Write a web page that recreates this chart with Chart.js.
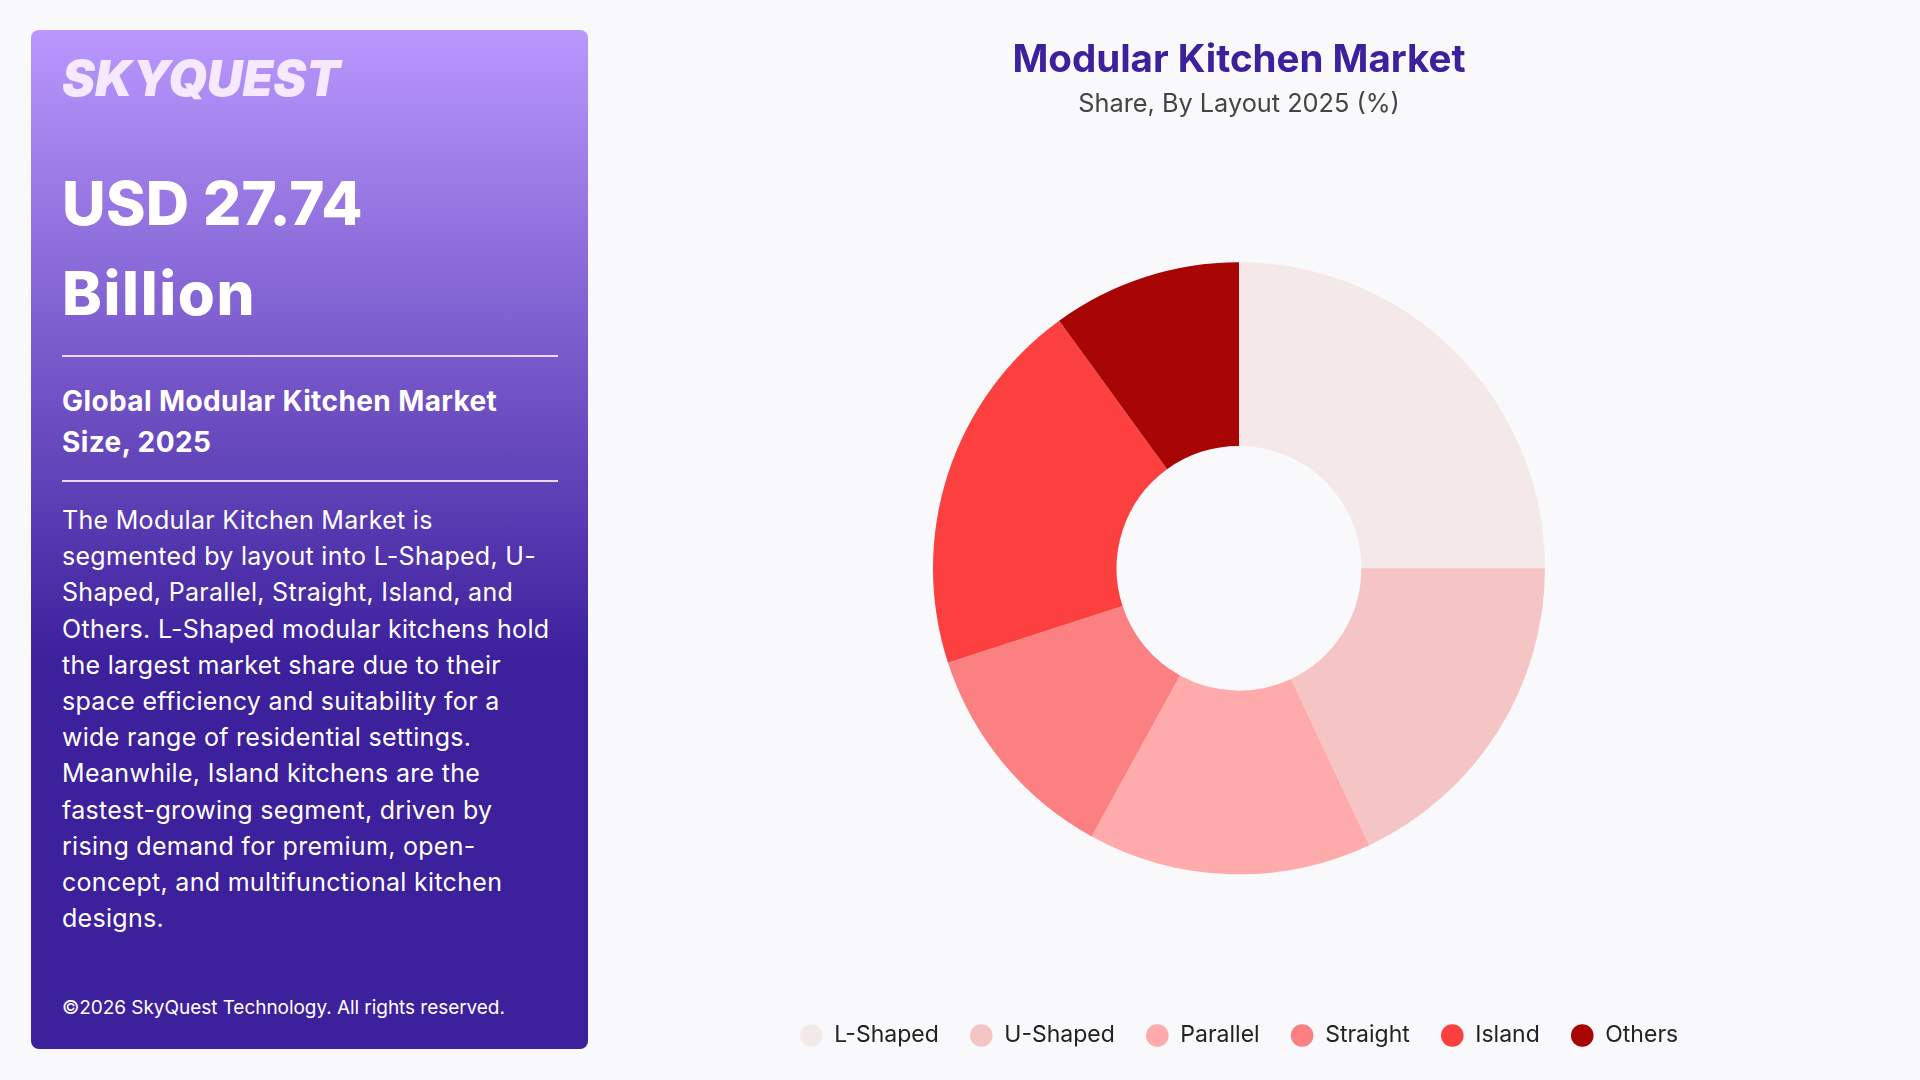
<!DOCTYPE html>
<html>
<head>
<meta charset="utf-8">
<title>Modular Kitchen Market</title>
<script src="https://cdn.jsdelivr.net/npm/chart.js@4"></script>
<style>
  html, body { margin: 0; width: 1920px; height: 1080px; overflow: hidden; background: #f9f9fb; font-family: Inter, sans-serif; }
  .panel { position: absolute; left: 31px; top: 30px; width: 557px; height: 1019px; border-radius: 8px; color: #fff;
    background: linear-gradient(180deg, #b997fd 0%, #3c209c 62%, #3c209c 100%); }
  .panel div { position: absolute; left: 31px; white-space: nowrap; }
  .logo { top: 15px; font-size: 49.5px; line-height: 66px; font-weight: 900; font-style: italic; color: #f6e8ff; }
  .big { top: 128px; font-size: 60px; line-height: 90px; font-weight: 800; letter-spacing: 0.3px; }
  .big span { letter-spacing: 1.6px; }
  .rule { width: 496px; height: 2px; background: #e6dcff; }
  .sub { top: 351px; font-size: 28px; line-height: 40.5px; font-weight: 700; letter-spacing: 0.4px; }
  .body { top: 472px; font-size: 25px; line-height: 36.2px; font-weight: 400; letter-spacing: 0.3px; }
  .foot { top: 963px; font-size: 19px; line-height: 30px; font-weight: 400; letter-spacing: -0.05px; }
  #wrap { position: absolute; left: 590px; top: 0; width: 1298px; height: 1080px; }
</style>
</head>
<body>
<div class="panel">
  <div class="logo">SKYQUEST</div>
  <div class="big">USD 27.74<br><span>Billion</span></div>
  <div class="rule" style="top:325px"></div>
  <div class="sub">Global Modular Kitchen Market<br>Size, 2025</div>
  <div class="rule" style="top:450px"></div>
  <div class="body">The Modular Kitchen Market is<br>segmented by layout into L-Shaped, U-<br>Shaped, Parallel, Straight, Island, and<br>Others. L-Shaped modular kitchens hold<br>the largest market share due to their<br>space efficiency and suitability for a<br>wide range of residential settings.<br>Meanwhile, Island kitchens are the<br>fastest-growing segment, driven by<br>rising demand for premium, open-<br>concept, and multifunctional kitchen<br>designs.</div>
  <div class="foot">©2026 SkyQuest Technology. All rights reserved.</div>
</div>
<div id="wrap"><canvas id="donut" width="1298" height="1080"></canvas></div>
<script>
const layouts = ['L-Shaped', 'U-Shaped', 'Parallel', 'Straight', 'Island', 'Others'];
const shares = [25, 18, 15, 12, 20, 10];
const sliceColors = ['#f5e8e8', '#f5c4c4', '#ffabab', '#fa8082', '#fc4040', '#a80505'];

new Chart(document.getElementById('donut'), {
  type: 'doughnut',
  data: {
    labels: layouts,
    datasets: [{
      data: shares,
      backgroundColor: sliceColors,
      borderWidth: 0,
    }],
  },
  options: {
    responsive: false,
    animation: false,
    devicePixelRatio: 1,
    cutout: '40%',
    radius: 306,
    layout: { padding: { top: 0, bottom: 23 } },
    plugins: {
      title: {
        display: true,
        text: 'Modular Kitchen Market',
        color: '#3c209c',
        font: { family: 'Inter', size: 38.5, weight: '700' },
        padding: { top: 37, bottom: 6 },
      },
      subtitle: {
        display: true,
        text: 'Share, By Layout 2025 (%)',
        color: '#444444',
        font: { family: 'Inter', size: 25.3, weight: '400' },
        padding: { bottom: 24 },
      },
      legend: {
        position: 'bottom',
        labels: {
          usePointStyle: true,
          pointStyle: 'circle',
          boxHeight: 16,
          color: '#222222',
          padding: 31,
          font: { family: 'Inter', size: 23 },
        },
      },
      tooltip: { enabled: false },
    },
  },
});
</script>
</body>
</html>
